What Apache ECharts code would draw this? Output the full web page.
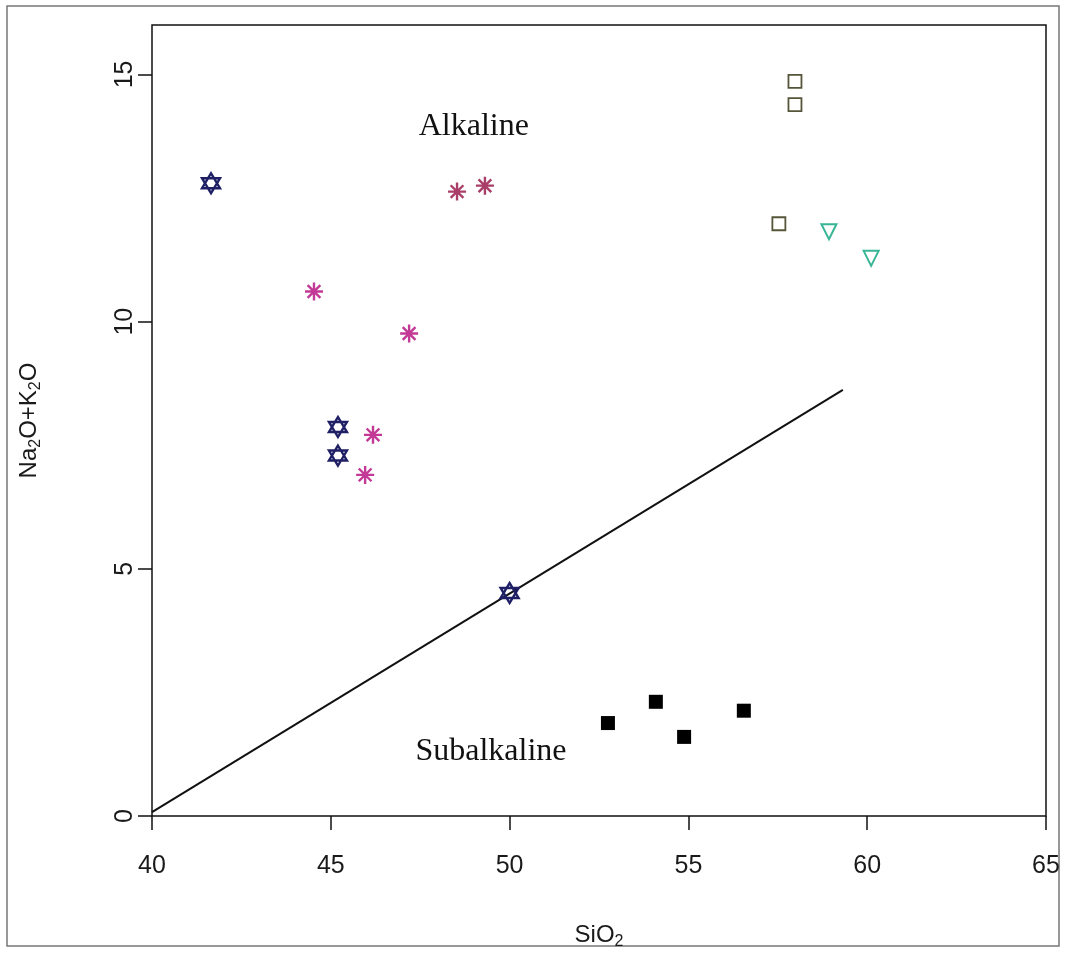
<!DOCTYPE html>
<html>
<head>
<meta charset="utf-8">
<script src="https://cdn.jsdelivr.net/npm/echarts@6/dist/echarts.min.js"></script>
<style>
  html, body { margin: 0; padding: 0; background: #fff; }
  #main { width: 1066px; height: 953px; }
</style>
</head>
<body>
<div id="main"></div>
<script>
// SiO2 vs Na2O+K2O
var starPts = [[41.65, 12.8], [45.2, 7.87], [45.2, 7.29], [50.0, 4.51]];
var asteriskPts = [[44.53, 10.61], [47.19, 9.76], [46.18, 7.71], [45.96, 6.9]];
var asteriskTopPts = [[48.53, 12.63], [49.31, 12.75]];
var openSquarePts = [[57.98, 14.86], [57.98, 14.39], [57.53, 11.98]];
var trianglePts = [[58.93, 11.82], [60.11, 11.28]];
var filledSquarePts = [[52.75, 1.88], [54.09, 2.31], [54.88, 1.6], [56.55, 2.13]];
var dividerLine = [[40, 0.08], [59.32, 8.62]];
var areaLabels = [[49.0, 13.95, 'Alkaline'], [49.48, 1.3, 'Subalkaline']];
var xTicks = [40, 45, 50, 55, 60, 65];
var yTicks = [0, 5, 10, 15];

var starPath = 'path://M10,0 L18.66,15 L1.34,15 Z M10,20 L18.66,5 L1.34,5 Z';
var asteriskPath = 'path://M10,0 L10,20 M0,10 L20,10 M2.93,2.93 L17.07,17.07 M17.07,2.93 L2.93,17.07';

var chart = echarts.init(document.getElementById('main'));

var sans = 'Liberation Sans, Arial, sans-serif';
var labelFont = { fontFamily: sans, fontSize: 25, color: '#1a1a1a' };
var nameRich = {
  a: { fontFamily: sans, fontSize: 24, color: '#1a1a1a' },
  s: { fontFamily: sans, fontSize: 16, color: '#1a1a1a', padding: [14, 0, 0, 0] }
};

chart.setOption({
  animation: false,
  graphic: [{
    type: 'rect',
    shape: { x: 7, y: 6, width: 1052, height: 940 },
    style: { fill: 'none', stroke: '#777', lineWidth: 1.5 },
    silent: true
  }],
  grid: {
    left: 152, right: 20, top: 25, bottom: 137,
    outerBoundsMode: 'none',
    show: true, borderColor: '#111', borderWidth: 1.5,
    backgroundColor: 'transparent'
  },
  xAxis: {
    type: 'value', min: 40, max: 65, interval: 5,
    splitLine: { show: false },
    axisLine: { show: false },
    axisTick: { show: true, length: 14, customValues: xTicks, lineStyle: { color: '#111', width: 1.5 } },
    axisLabel: Object.assign({ margin: 38, customValues: xTicks }, labelFont),
    name: '{a|SiO}{s|2}',
    nameLocation: 'middle',
    nameGap: 104,
    nameTextStyle: { rich: nameRich }
  },
  yAxis: {
    type: 'value', min: 0, max: 16, interval: 5,
    splitLine: { show: false },
    axisLine: { show: false },
    axisTick: { show: true, length: 14, customValues: yTicks, lineStyle: { color: '#111', width: 1.5 } },
    axisLabel: Object.assign({ margin: 14, rotate: 90, customValues: yTicks }, labelFont),
    name: '{a|Na}{s|2}{a|O+K}{s|2}{a|O}',
    nameLocation: 'middle',
    nameRotate: 90,
    nameGap: 108,
    nameTextStyle: { rich: nameRich }
  },
  series: [
    {
      type: 'line', data: dividerLine, symbol: 'none',
      lineStyle: { color: '#111', width: 2 }, z: 1
    },
    {
      type: 'scatter', data: starPts, symbol: starPath, symbolSize: [18, 20],
      itemStyle: { color: 'none', borderColor: '#1f1f66', borderWidth: 2.4, opacity: 1 }
    },
    {
      type: 'scatter', data: asteriskPts, symbol: asteriskPath, symbolSize: 18,
      itemStyle: { color: 'none', borderColor: '#c23a95', borderWidth: 2.4, opacity: 1 }
    },
    {
      type: 'scatter', data: asteriskTopPts, symbol: asteriskPath, symbolSize: 18,
      itemStyle: { color: 'none', borderColor: '#a93e68', borderWidth: 2.4, opacity: 1 }
    },
    {
      type: 'scatter', data: openSquarePts, symbol: 'rect', symbolSize: 13,
      itemStyle: { color: '#fff', borderColor: '#55553a', borderWidth: 1.8, opacity: 1 }
    },
    {
      type: 'scatter', data: trianglePts, symbol: 'triangle', symbolSize: 15, symbolRotate: 180,
      itemStyle: { color: '#fff', borderColor: '#38b595', borderWidth: 2, opacity: 1 }
    },
    {
      type: 'scatter', data: filledSquarePts, symbol: 'rect', symbolSize: 14,
      itemStyle: { color: '#000', opacity: 1 }
    },
    {
      type: 'scatter', data: areaLabels, symbolSize: 0, silent: true,
      itemStyle: { opacity: 1 },
      label: {
        show: true, position: 'inside',
        formatter: function (p) { return p.data[2]; },
        fontFamily: 'Liberation Serif, Times New Roman, serif',
        fontSize: 32, color: '#111'
      }
    }
  ]
});
</script>
</body>
</html>
